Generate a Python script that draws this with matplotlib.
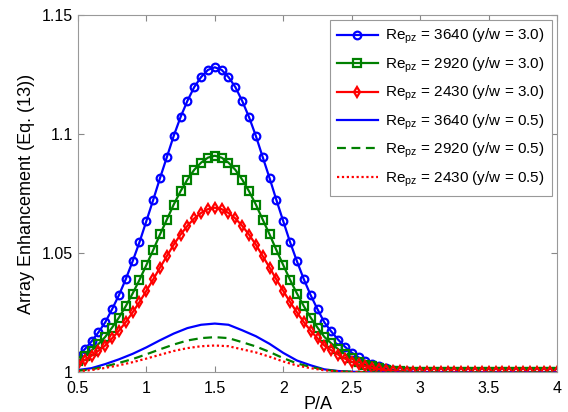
import numpy as np
import matplotlib
matplotlib.use("Agg")
from matplotlib import pyplot as plt

plt.rcParams['font.family'] = ['Liberation Sans', 'DejaVu Sans']
plt.rcParams['mathtext.default'] = 'regular'

# P/A grid for the marked curves (y/w = 3.0) and the plain curves (y/w = 0.5)
pa_marked = np.linspace(0.5, 4.0, 71)
pa_plain = np.linspace(0.5, 4.0, 36)

re3640_yw30 = [
    1.0067, 1.0097, 1.0130, 1.0168, 1.0210, 1.0265, 1.0324, 1.0391, 1.0466, 1.0546,
    1.0634, 1.0723, 1.0815, 1.0903, 1.0992, 1.1071, 1.1139, 1.1197, 1.1239, 1.1269,
    1.1280, 1.1269, 1.1239, 1.1197, 1.1139, 1.1071, 1.0992, 1.0903, 1.0815, 1.0723,
    1.0634, 1.0546, 1.0466, 1.0391, 1.0324, 1.0265, 1.0210, 1.0172, 1.0138, 1.0108,
    1.0083, 1.0063, 1.0047, 1.0035, 1.0025, 1.0017, 1.0011, 1.0007, 1.0004, 1.0002,
    1.0001, 1.0, 1.0, 1.0, 1.0, 1.0, 1.0, 1.0, 1.0, 1.0,
    1.0, 1.0, 1.0, 1.0, 1.0, 1.0, 1.0, 1.0, 1.0, 1.0, 1.0,
]
re2920_yw30 = [
    1.0048, 1.0069, 1.0092, 1.0119, 1.0149, 1.0188, 1.0230, 1.0278, 1.0331, 1.0388,
    1.0450, 1.0513, 1.0579, 1.0641, 1.0704, 1.0760, 1.0809, 1.0850, 1.0880, 1.0901,
    1.0909, 1.0901, 1.0880, 1.0850, 1.0809, 1.0760, 1.0704, 1.0641, 1.0579, 1.0513,
    1.0450, 1.0388, 1.0331, 1.0278, 1.0230, 1.0188, 1.0149, 1.0122, 1.0098, 1.0077,
    1.0059, 1.0045, 1.0033, 1.0025, 1.0018, 1.0012, 1.0008, 1.0005, 1.0003, 1.0001,
    1.0001, 1.0, 1.0, 1.0, 1.0, 1.0, 1.0, 1.0, 1.0, 1.0,
    1.0, 1.0, 1.0, 1.0, 1.0, 1.0, 1.0, 1.0, 1.0, 1.0, 1.0,
]
re2430_yw30 = [
    1.0036, 1.0052, 1.0070, 1.0091, 1.0113, 1.0143, 1.0175, 1.0211, 1.0252, 1.0295,
    1.0342, 1.0390, 1.0440, 1.0488, 1.0536, 1.0578, 1.0615, 1.0646, 1.0669, 1.0685,
    1.0691, 1.0685, 1.0669, 1.0646, 1.0615, 1.0578, 1.0536, 1.0488, 1.0440, 1.0390,
    1.0342, 1.0295, 1.0252, 1.0211, 1.0175, 1.0143, 1.0113, 1.0093, 1.0075, 1.0058,
    1.0045, 1.0034, 1.0025, 1.0019, 1.0014, 1.0009, 1.0006, 1.0004, 1.0002, 1.0001,
    1.0001, 1.0, 1.0, 1.0, 1.0, 1.0, 1.0, 1.0, 1.0, 1.0,
    1.0, 1.0, 1.0, 1.0, 1.0, 1.0, 1.0, 1.0, 1.0, 1.0, 1.0,
]
re3640_yw05 = [
    1.0010, 1.0018, 1.0035, 1.0055, 1.0078, 1.0105, 1.0135, 1.0163, 1.0186, 1.0200,
    1.0205, 1.0200, 1.0177, 1.0152, 1.0120, 1.0082, 1.0050, 1.0030, 1.0013, 1.0006,
    1.0003, 1.0001, 1.0, 1.0, 1.0, 1.0, 1.0, 1.0, 1.0, 1.0,
    1.0, 1.0, 1.0, 1.0, 1.0, 1.0,
]
re2920_yw05 = [
    1.0007, 1.0013, 1.0025, 1.0040, 1.0056, 1.0076, 1.0097, 1.0117, 1.0134, 1.0144,
    1.0148, 1.0144, 1.0127, 1.0109, 1.0086, 1.0060, 1.0038, 1.0023, 1.0012, 1.0005,
    1.0003, 1.0001, 1.0, 1.0, 1.0, 1.0, 1.0, 1.0, 1.0, 1.0,
    1.0, 1.0, 1.0, 1.0, 1.0, 1.0,
]
re2430_yw05 = [
    1.0005, 1.0010, 1.0019, 1.0030, 1.0043, 1.0058, 1.0074, 1.0090, 1.0102, 1.0110,
    1.0113, 1.0110, 1.0097, 1.0084, 1.0066, 1.0046, 1.0029, 1.0018, 1.0009, 1.0004,
    1.0002, 1.0001, 1.0, 1.0, 1.0, 1.0, 1.0, 1.0, 1.0, 1.0,
    1.0, 1.0, 1.0, 1.0, 1.0, 1.0,
]

labels = [
    'Re$_{pz}$ = 3640 (y/w = 3.0)',
    'Re$_{pz}$ = 2920 (y/w = 3.0)',
    'Re$_{pz}$ = 2430 (y/w = 3.0)',
    'Re$_{pz}$ = 3640 (y/w = 0.5)',
    'Re$_{pz}$ = 2920 (y/w = 0.5)',
    'Re$_{pz}$ = 2430 (y/w = 0.5)',
]
xticks = [0.5, 1, 1.5, 2, 2.5, 3, 3.5, 4]
xticklabels = ['0.5', '1', '1.5', '2', '2.5', '3', '3.5', '4']
yticks = [1, 1.05, 1.1, 1.15]
yticklabels = ['1', '1.05', '1.1', '1.15']

blue, green, red = '#0000ff', '#008000', '#ff0000'

fig = plt.figure(figsize=(5.68, 4.12), dpi=100)
ax = fig.add_axes([0.137, 0.096, 0.844, 0.868])

ax.plot(pa_marked, re3640_yw30, color=blue, lw=1.6, marker='o', ms=5.5,
        mfc='none', mew=1.6, label=labels[0])
ax.plot(pa_marked, re2920_yw30, color=green, lw=1.6, marker='s', ms=5.5,
        mfc='none', mew=1.6, label=labels[1])
ax.plot(pa_marked, re2430_yw30, color=red, lw=1.6, marker='d', ms=5.5,
        mfc='none', mew=1.6, label=labels[2])
ax.plot(pa_plain, re3640_yw05, color=blue, lw=1.6, ls='-', label=labels[3])
ax.plot(pa_plain, re2920_yw05, color=green, lw=1.6, ls=(0, (4, 2.5)), label=labels[4])
ax.plot(pa_plain, re2430_yw05, color=red, lw=1.6, ls=(0, (1, 1.2)), label=labels[5])

ax.set_xlim(0.5, 4)
ax.set_ylim(1, 1.15)
ax.set_xticks(xticks)
ax.set_xticklabels(xticklabels)
ax.set_yticks(yticks)
ax.set_yticklabels(yticklabels)
ax.tick_params(direction='in', length=4, width=0.8, color='#888888',
               labelsize=11.5, top=True, right=True)
ax.tick_params(axis='x', pad=6)
for s in ax.spines.values():
    s.set_color('#999999')
    s.set_linewidth(0.8)

ax.set_xlabel('P/A', fontsize=13, labelpad=0)
ax.set_ylabel('Array Enhancement (Eq. (13))', fontsize=13, labelpad=5)

leg = ax.legend(loc='upper right', numpoints=1, fontsize=11, handlelength=2.7,
                fancybox=False, framealpha=1, edgecolor='#999999',
                borderaxespad=0.35, labelspacing=0.6, handletextpad=0.5,
                borderpad=0.45)
leg.get_frame().set_linewidth(0.8)

fig.savefig('out.png', dpi=100)
